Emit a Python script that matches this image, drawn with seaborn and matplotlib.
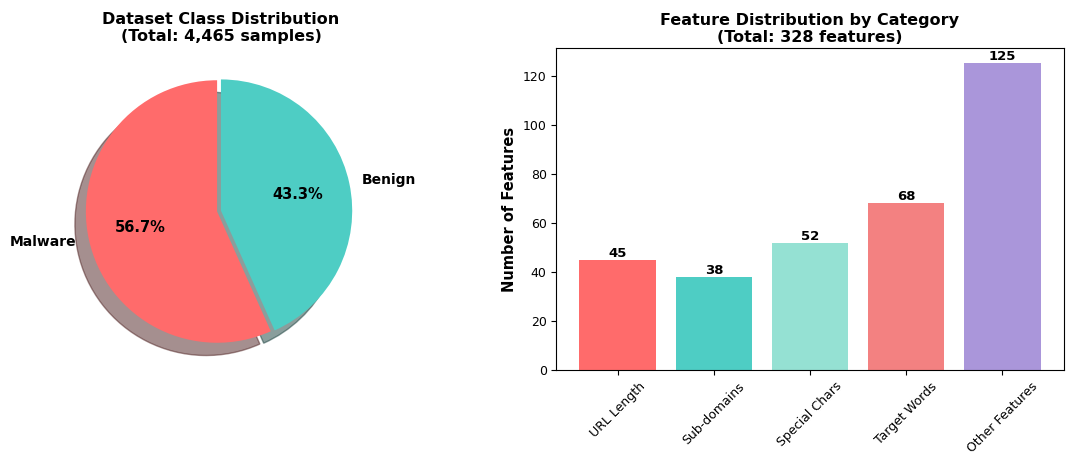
import matplotlib
matplotlib.use("Agg")
import matplotlib.pyplot as plt
import seaborn as sns

# pie data
class_names = ["Malware", "Benign"]
class_counts = [2532, 1933]
class_colors = ["#FF6B6B", "#4ECDC4"]

# bar data
feature_cats = ["URL Length", "Sub-domains", "Special Chars", "Target Words", "Other Features"]
feature_counts = [45, 38, 52, 68, 125]
feature_colors = ["#FF6B6B", "#4ECDC4", "#95E1D3", "#F38181", "#AA96DA"]

fig = plt.figure(figsize=(10.7, 4.57), dpi=100)

# left: pie
ax1 = fig.add_axes([0.053, 0.18, 0.307, 0.718])
wedges, texts, autotexts = ax1.pie(
    class_counts, labels=class_names, colors=class_colors, autopct="%1.1f%%",
    startangle=90, explode=(0.03, 0), shadow={"ox": -0.06, "oy": -0.07},
    textprops={"fontsize": 10, "fontweight": "bold"},
)
for t in autotexts:
    t.set_fontsize(10.5)
ax1.set_aspect("equal")
ax1.set_title(f"Dataset Class Distribution\n(Total: {sum(class_counts):,} samples)",
              fontsize=11.5, fontweight="bold", pad=4)

# right: bars
ax2 = fig.add_axes([0.52, 0.19, 0.474, 0.705])
sns.barplot(x=feature_cats, y=feature_counts, hue=feature_cats, palette=feature_colors,
            saturation=1, width=0.8, legend=False, ax=ax2)
ax2.set_xlim(-0.64, 4.64)
ax2.set_ylim(0, max(feature_counts) * 1.05)
for c in ax2.containers:
    ax2.bar_label(c, fontsize=9.5, fontweight="bold", padding=0)
ax2.set_ylabel("Number of Features", fontsize=10.5, fontweight="bold")
ax2.set_title(f"Feature Distribution by Category\n(Total: {sum(feature_counts)} features)",
              fontsize=11.5, fontweight="bold", pad=4)
ax2.tick_params(axis="x", labelrotation=45, labelsize=9)
ax2.tick_params(axis="y", labelsize=9)

fig.savefig("out.png", dpi=100)
